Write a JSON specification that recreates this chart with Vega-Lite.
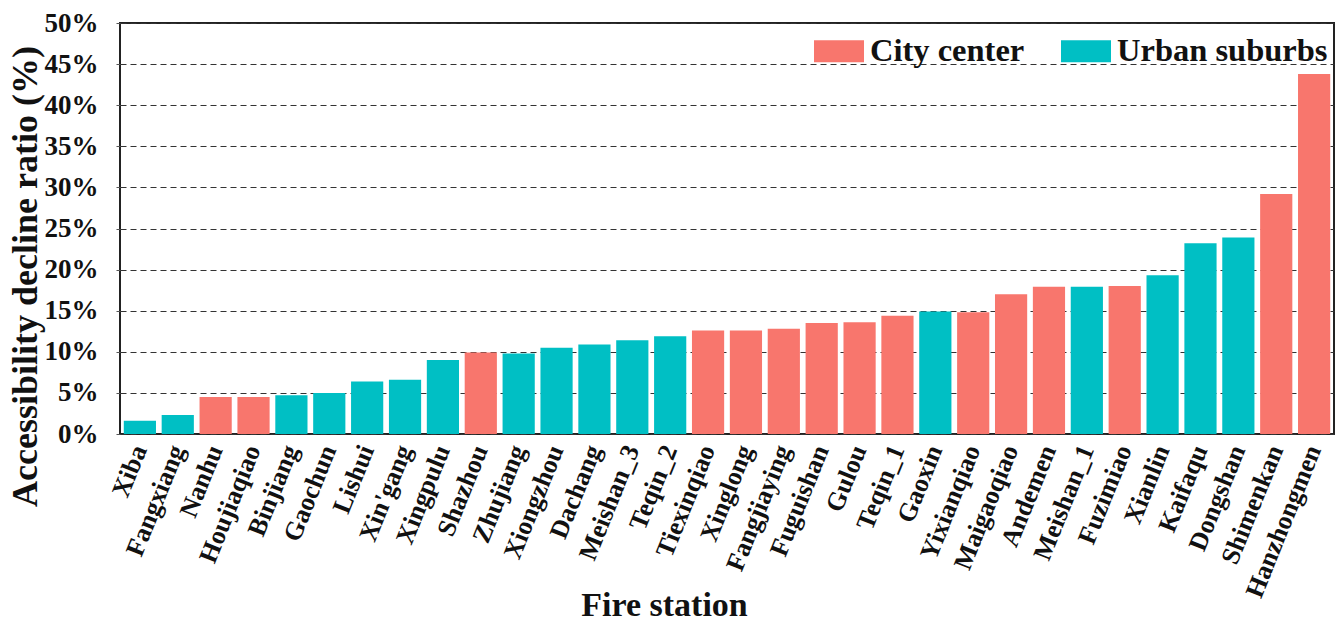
{
  "$schema": "https://vega.github.io/schema/vega-lite/v6.json",
  "autosize": "none",
  "width": 1214,
  "height": 411,
  "padding": {"left": 120, "top": 23, "right": 6, "bottom": 191},
  "background": "white",
  "config": {
    "font": "Liberation Serif",
    "view": {"stroke": "#222222", "strokeWidth": 2}
  },
  "data": {
    "values": [
      {"station": "Xiba", "ratio": 1.6, "area": "Urban suburbs"},
      {"station": "Fangxiang", "ratio": 2.3, "area": "Urban suburbs"},
      {"station": "Nanhu", "ratio": 4.5, "area": "City center"},
      {"station": "Houjiaqiao", "ratio": 4.5, "area": "City center"},
      {"station": "Binjiang", "ratio": 4.7, "area": "Urban suburbs"},
      {"station": "Gaochun", "ratio": 5.0, "area": "Urban suburbs"},
      {"station": "Lishui", "ratio": 6.4, "area": "Urban suburbs"},
      {"station": "Xin'gang", "ratio": 6.6, "area": "Urban suburbs"},
      {"station": "Xingpulu", "ratio": 9.0, "area": "Urban suburbs"},
      {"station": "Shazhou", "ratio": 9.9, "area": "City center"},
      {"station": "Zhujiang", "ratio": 9.8, "area": "Urban suburbs"},
      {"station": "Xiongzhou", "ratio": 10.5, "area": "Urban suburbs"},
      {"station": "Dachang", "ratio": 10.9, "area": "Urban suburbs"},
      {"station": "Meishan_3", "ratio": 11.4, "area": "Urban suburbs"},
      {"station": "Teqin_2", "ratio": 11.9, "area": "Urban suburbs"},
      {"station": "Tiexinqiao", "ratio": 12.6, "area": "City center"},
      {"station": "Xinglong", "ratio": 12.6, "area": "City center"},
      {"station": "Fangjiaying", "ratio": 12.8, "area": "City center"},
      {"station": "Fuguishan", "ratio": 13.5, "area": "City center"},
      {"station": "Gulou", "ratio": 13.6, "area": "City center"},
      {"station": "Teqin_1", "ratio": 14.4, "area": "City center"},
      {"station": "Gaoxin", "ratio": 14.9, "area": "Urban suburbs"},
      {"station": "Yixianqiao", "ratio": 14.8, "area": "City center"},
      {"station": "Maigaoqiao", "ratio": 17.0, "area": "City center"},
      {"station": "Andemen", "ratio": 17.9, "area": "City center"},
      {"station": "Meishan_1", "ratio": 17.9, "area": "Urban suburbs"},
      {"station": "Fuzimiao", "ratio": 18.0, "area": "City center"},
      {"station": "Xianlin", "ratio": 19.3, "area": "Urban suburbs"},
      {"station": "Kaifaqu", "ratio": 23.2, "area": "Urban suburbs"},
      {"station": "Dongshan", "ratio": 23.9, "area": "Urban suburbs"},
      {"station": "Shimenkan", "ratio": 29.2, "area": "City center"},
      {"station": "Hanzhongmen", "ratio": 43.8, "area": "City center"}
    ]
  },
  "mark": {"type": "bar"},
  "encoding": {
    "x": {
      "field": "station",
      "type": "nominal",
      "sort": null,
      "scale": {"paddingInner": 0.15, "paddingOuter": 0.1},
      "axis": {
        "title": "Fire station",
        "titleFont": "Liberation Serif",
        "titleFontSize": 34,
        "titleFontWeight": "bold",
        "titleColor": "#111111",
        "titleX": 544,
        "titleY": 181,
        "titleBaseline": "alphabetic",
        "titleAnchor": "middle",
        "labelAngle": -68,
        "labelFont": "Liberation Serif",
        "labelFontSize": 26,
        "labelFontWeight": "bold",
        "labelColor": "#111111",
        "labelPadding": 12,
        "labelOverlap": false,
        "ticks": false,
        "domain": false,
        "grid": false
      }
    },
    "y": {
      "field": "ratio",
      "type": "quantitative",
      "scale": {"domain": [0, 50], "nice": false},
      "axis": {
        "title": "Accessibility decline ratio (%)",
        "titleFont": "Liberation Serif",
        "titleFontSize": 36,
        "titleFontWeight": "bold",
        "titleColor": "#111111",
        "titleX": -84,
        "titleY": 253,
        "titleAngle": -90,
        "titleAnchor": "middle",
        "titleAlign": "center",
        "titleBaseline": "alphabetic",
        "values": [0, 5, 10, 15, 20, 25, 30, 35, 40, 45, 50],
        "labelExpr": "datum.value + '%'",
        "labelFont": "Liberation Serif",
        "labelFontSize": 27,
        "labelFontWeight": "bold",
        "labelColor": "#111111",
        "labelPadding": 18,
        "ticks": true,
        "tickSize": 4,
        "tickColor": "#555555",
        "domain": false,
        "grid": true,
        "gridColor": "#333333",
        "gridDash": [6, 4],
        "gridWidth": 1
      }
    },
    "color": {
      "field": "area",
      "type": "nominal",
      "scale": {"domain": ["City center", "Urban suburbs"], "range": ["#F8766D", "#00BFC4"]},
      "legend": {
        "title": null,
        "orient": "none",
        "direction": "horizontal",
        "legendX": 694,
        "legendY": 3,
        "symbolType": "M-1,-0.44H1V0.44H-1Z",
        "symbolSize": 2500,
        "symbolStrokeWidth": 0,
        "symbolOpacity": 1,
        "labelFont": "Liberation Serif",
        "labelFontSize": 32.5,
        "labelFontWeight": "bold",
        "labelColor": "#111111",
        "labelLimit": 400,
        "labelOffset": 6,
        "columnPadding": 36
      }
    }
  }
}
